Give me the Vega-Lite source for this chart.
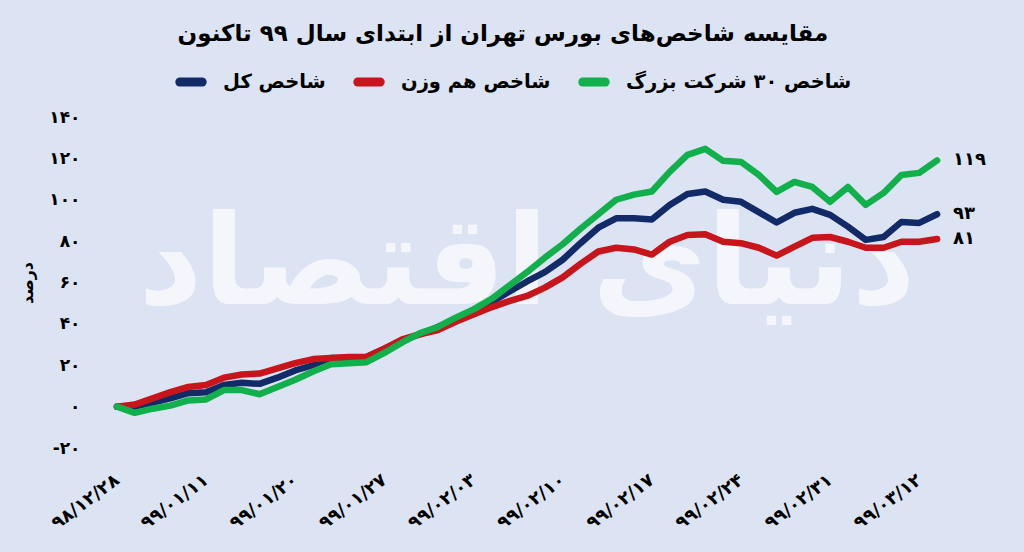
{
  "$schema": "https://vega.github.io/schema/vega-lite/v6.json",
  "width": 838,
  "height": 331,
  "autosize": {"type": "none"},
  "padding": {"left": 108, "top": 117, "right": 78, "bottom": 104},
  "background": "#dce3f2",
  "title": {
    "text": "مقایسه شاخص‌های بورس تهران از ابتدای سال ۹۹ تاکنون",
    "font": "DejaVu Sans",
    "fontSize": 23,
    "fontWeight": "bold",
    "color": "#000000",
    "anchor": "middle",
    "frame": "bounds",
    "offset": 20
  },
  "config": {"view": {"stroke": null}, "font": "DejaVu Sans"},
  "layer": [
    {
      "data": {"values": [{}]},
      "mark": {"type": "text", "text": "دنیای اقتصاد", "fontSize": 125, "fontWeight": "bold", "color": "#ffffff", "opacity": 0.7},
      "encoding": {
        "x": {"datum": 23},
        "y": {"datum": 68}
      }
    },
    {
      "data": {
        "values": [
          {"i": 0, "شاخص کل": 0, "شاخص هم وزن": 0, "شاخص ۳۰ شرکت بزرگ": 0},
          {"i": 1, "شاخص کل": 0, "شاخص هم وزن": 1, "شاخص ۳۰ شرکت بزرگ": -3},
          {"i": 2, "شاخص کل": 2, "شاخص هم وزن": 4, "شاخص ۳۰ شرکت بزرگ": -1},
          {"i": 3, "شاخص کل": 4, "شاخص هم وزن": 7, "شاخص ۳۰ شرکت بزرگ": 0.5},
          {"i": 4, "شاخص کل": 6.5, "شاخص هم وزن": 9.5, "شاخص ۳۰ شرکت بزرگ": 3},
          {"i": 5, "شاخص کل": 7, "شاخص هم وزن": 10.5, "شاخص ۳۰ شرکت بزرگ": 3.5},
          {"i": 6, "شاخص کل": 10.5, "شاخص هم وزن": 14, "شاخص ۳۰ شرکت بزرگ": 8},
          {"i": 7, "شاخص کل": 11.5, "شاخص هم وزن": 15.5, "شاخص ۳۰ شرکت بزرگ": 8},
          {"i": 8, "شاخص کل": 11, "شاخص هم وزن": 16, "شاخص ۳۰ شرکت بزرگ": 6},
          {"i": 9, "شاخص کل": 14, "شاخص هم وزن": 18.5, "شاخص ۳۰ شرکت بزرگ": 9.5},
          {"i": 10, "شاخص کل": 17.5, "شاخص هم وزن": 21, "شاخص ۳۰ شرکت بزرگ": 13},
          {"i": 11, "شاخص کل": 20, "شاخص هم وزن": 23, "شاخص ۳۰ شرکت بزرگ": 17},
          {"i": 12, "شاخص کل": 23.5, "شاخص هم وزن": 23.5, "شاخص ۳۰ شرکت بزرگ": 20.5},
          {"i": 13, "شاخص کل": 23.5, "شاخص هم وزن": 24, "شاخص ۳۰ شرکت بزرگ": 21},
          {"i": 14, "شاخص کل": 24, "شاخص هم وزن": 24, "شاخص ۳۰ شرکت بزرگ": 21.5},
          {"i": 15, "شاخص کل": 28, "شاخص هم وزن": 28, "شاخص ۳۰ شرکت بزرگ": 26},
          {"i": 16, "شاخص کل": 32, "شاخص هم وزن": 32.5, "شاخص ۳۰ شرکت بزرگ": 31},
          {"i": 17, "شاخص کل": 35, "شاخص هم وزن": 35, "شاخص ۳۰ شرکت بزرگ": 35.5},
          {"i": 18, "شاخص کل": 38.5, "شاخص هم وزن": 37, "شاخص ۳۰ شرکت بزرگ": 38.5},
          {"i": 19, "شاخص کل": 42, "شاخص هم وزن": 41, "شاخص ۳۰ شرکت بزرگ": 43},
          {"i": 20, "شاخص کل": 46, "شاخص هم وزن": 44.5, "شاخص ۳۰ شرکت بزرگ": 47},
          {"i": 21, "شاخص کل": 50.5, "شاخص هم وزن": 48, "شاخص ۳۰ شرکت بزرگ": 52},
          {"i": 22, "شاخص کل": 55.5, "شاخص هم وزن": 51, "شاخص ۳۰ شرکت بزرگ": 58.5},
          {"i": 23, "شاخص کل": 60.5, "شاخص هم وزن": 53.5, "شاخص ۳۰ شرکت بزرگ": 65},
          {"i": 24, "شاخص کل": 65, "شاخص هم وزن": 57.5, "شاخص ۳۰ شرکت بزرگ": 72},
          {"i": 25, "شاخص کل": 71, "شاخص هم وزن": 62.5, "شاخص ۳۰ شرکت بزرگ": 78.5},
          {"i": 26, "شاخص کل": 79, "شاخص هم وزن": 69, "شاخص ۳۰ شرکت بزرگ": 86},
          {"i": 27, "شاخص کل": 86.5, "شاخص هم وزن": 75, "شاخص ۳۰ شرکت بزرگ": 93},
          {"i": 28, "شاخص کل": 91, "شاخص هم وزن": 76.8, "شاخص ۳۰ شرکت بزرگ": 100},
          {"i": 29, "شاخص کل": 91, "شاخص هم وزن": 76, "شاخص ۳۰ شرکت بزرگ": 102.5},
          {"i": 30, "شاخص کل": 90.5, "شاخص هم وزن": 73.5, "شاخص ۳۰ شرکت بزرگ": 104},
          {"i": 31, "شاخص کل": 97.5, "شاخص هم وزن": 79.7, "شاخص ۳۰ شرکت بزرگ": 113.5},
          {"i": 32, "شاخص کل": 102.8, "شاخص هم وزن": 83, "شاخص ۳۰ شرکت بزرگ": 121.7},
          {"i": 33, "شاخص کل": 104, "شاخص هم وزن": 83.3, "شاخص ۳۰ شرکت بزرگ": 124.6},
          {"i": 34, "شاخص کل": 100, "شاخص هم وزن": 79.7, "شاخص ۳۰ شرکت بزرگ": 118.8},
          {"i": 35, "شاخص کل": 99, "شاخص هم وزن": 79, "شاخص ۳۰ شرکت بزرگ": 118.3},
          {"i": 36, "شاخص کل": 94, "شاخص هم وزن": 76.8, "شاخص ۳۰ شرکت بزرگ": 112},
          {"i": 37, "شاخص کل": 89, "شاخص هم وزن": 73, "شاخص ۳۰ شرکت بزرگ": 103.8},
          {"i": 38, "شاخص کل": 93.7, "شاخص هم وزن": 77.3, "شاخص ۳۰ شرکت بزرگ": 108.6},
          {"i": 39, "شاخص کل": 95.6, "شاخص هم وزن": 81.6, "شاخص ۳۰ شرکت بزرگ": 106.2},
          {"i": 40, "شاخص کل": 92.7, "شاخص هم وزن": 82, "شاخص ۳۰ شرکت بزرگ": 99},
          {"i": 41, "شاخص کل": 87, "شاخص هم وزن": 79.7, "شاخص ۳۰ شرکت بزرگ": 106.2},
          {"i": 42, "شاخص کل": 80.6, "شاخص هم وزن": 76.8, "شاخص ۳۰ شرکت بزرگ": 97.5},
          {"i": 43, "شاخص کل": 82, "شاخص هم وزن": 76.8, "شاخص ۳۰ شرکت بزرگ": 103.3},
          {"i": 44, "شاخص کل": 89.3, "شاخص هم وزن": 79.7, "شاخص ۳۰ شرکت بزرگ": 112},
          {"i": 45, "شاخص کل": 88.8, "شاخص هم وزن": 79.7, "شاخص ۳۰ شرکت بزرگ": 113},
          {"i": 46, "شاخص کل": 93, "شاخص هم وزن": 81, "شاخص ۳۰ شرکت بزرگ": 119}
        ]
      },
      "transform": [
        {"fold": ["شاخص کل", "شاخص هم وزن", "شاخص ۳۰ شرکت بزرگ"], "as": ["series", "value"]}
      ],
      "mark": {"type": "line", "strokeWidth": 6.5, "strokeCap": "round", "strokeJoin": "round"},
      "encoding": {
        "x": {
          "field": "i",
          "type": "quantitative",
          "scale": {"domain": [-0.5, 46.5], "nice": false, "zero": false},
          "axis": {
            "title": null,
            "values": [0, 5, 10, 15, 20, 25, 30, 35, 40, 45],
            "labelExpr": "['۹۸/۱۲/۲۸', '۹۹/۰۱/۱۱', '۹۹/۰۱/۲۰', '۹۹/۰۱/۲۷', '۹۹/۰۲/۰۳', '۹۹/۰۲/۱۰', '۹۹/۰۲/۱۷', '۹۹/۰۲/۲۴', '۹۹/۰۲/۳۱', '۹۹/۰۳/۱۲'][round(datum.value / 5)]",
            "labelAngle": -37,
            "labelAlign": "right",
            "labelBaseline": "middle",
            "labelFontSize": 18,
            "labelFontWeight": "bold",
            "labelColor": "#000000",
            "labelPadding": 30,
            "domain": false,
            "ticks": false,
            "grid": false
          }
        },
        "y": {
          "field": "value",
          "type": "quantitative",
          "scale": {"domain": [-20, 140], "nice": false},
          "axis": {
            "title": "درصد",
            "titleFontSize": 16,
            "titleFontWeight": "bold",
            "titleColor": "#000000",
            "titlePadding": 13,
            "values": [-20, 0, 20, 40, 60, 80, 100, 120, 140],
            "labelExpr": "replace(replace(replace(replace(replace(replace(replace(replace(replace(replace(toString(datum.value), regexp('0', 'g'), '۰'), regexp('1', 'g'), '۱'), regexp('2', 'g'), '۲'), regexp('3', 'g'), '۳'), regexp('4', 'g'), '۴'), regexp('5', 'g'), '۵'), regexp('6', 'g'), '۶'), regexp('7', 'g'), '۷'), regexp('8', 'g'), '۸'), regexp('9', 'g'), '۹')",
            "labelFontSize": 17,
            "labelFontWeight": "bold",
            "labelColor": "#000000",
            "labelPadding": 28,
            "domain": false,
            "ticks": false,
            "gridColor": "#a8acb4",
            "gridWidth": 1.2
          }
        },
        "color": {
          "field": "series",
          "type": "nominal",
          "scale": {
            "domain": ["شاخص کل", "شاخص هم وزن", "شاخص ۳۰ شرکت بزرگ"],
            "range": ["#132a68", "#c8151b", "#12b04c"]
          },
          "legend": {
            "orient": "none",
            "legendX": 67,
            "legendY": -51,
            "direction": "horizontal",
            "title": null,
            "labelFontSize": 19.5,
            "labelFontWeight": "bold",
            "labelColor": "#000000",
            "labelLimit": 400,
            "labelOffset": 16,
            "columnPadding": 13,
            "symbolType": "stroke",
            "symbolStrokeWidth": 9,
            "symbolSize": 500,
            "encode": {"symbols": {"update": {"strokeCap": {"value": "round"}}}}
          }
        }
      }
    },
    {
      "data": {
        "values": [
          {"i": 46, "value": 119, "t": "۱۱۹"},
          {"i": 46, "value": 93, "t": "۹۳"},
          {"i": 46, "value": 81, "t": "۸۱"}
        ]
      },
      "mark": {"type": "text", "align": "left", "dx": 16, "fontSize": 18, "fontWeight": "bold", "color": "#000000"},
      "encoding": {
        "x": {"field": "i", "type": "quantitative"},
        "y": {"field": "value", "type": "quantitative"},
        "text": {"field": "t"}
      }
    }
  ]
}
